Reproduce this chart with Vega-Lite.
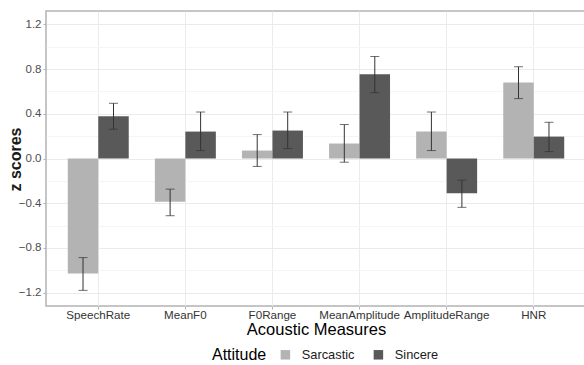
{
  "$schema": "https://vega.github.io/schema/vega-lite/v6.json",
  "width": 540,
  "height": 295,
  "autosize": {"type": "none"},
  "padding": {"left": 46, "top": 11, "right": -2, "bottom": 59},
  "background": "white",
  "config": {
    "view": {"stroke": "#b3b3b3", "strokeWidth": 1.5},
    "font": "Liberation Sans"
  },
  "data": {
    "values": [
      {"Measure": "SpeechRate", "Attitude": "Sarcastic", "z": -1.03, "lo": -1.18, "hi": -0.887},
      {"Measure": "SpeechRate", "Attitude": "Sincere", "z": 0.378, "lo": 0.262, "hi": 0.494},
      {"Measure": "MeanF0", "Attitude": "Sarcastic", "z": -0.387, "lo": -0.512, "hi": -0.274},
      {"Measure": "MeanF0", "Attitude": "Sincere", "z": 0.241, "lo": 0.071, "hi": 0.416},
      {"Measure": "F0Range", "Attitude": "Sarcastic", "z": 0.071, "lo": -0.071, "hi": 0.214},
      {"Measure": "F0Range", "Attitude": "Sincere", "z": 0.25, "lo": 0.089, "hi": 0.416},
      {"Measure": "MeanAmplitude", "Attitude": "Sarcastic", "z": 0.134, "lo": -0.033, "hi": 0.304},
      {"Measure": "MeanAmplitude", "Attitude": "Sincere", "z": 0.753, "lo": 0.589, "hi": 0.913},
      {"Measure": "AmplitudeRange", "Attitude": "Sarcastic", "z": 0.241, "lo": 0.071, "hi": 0.416},
      {"Measure": "AmplitudeRange", "Attitude": "Sincere", "z": -0.312, "lo": -0.437, "hi": -0.194},
      {"Measure": "HNR", "Attitude": "Sarcastic", "z": 0.681, "lo": 0.536, "hi": 0.821},
      {"Measure": "HNR", "Attitude": "Sincere", "z": 0.196, "lo": 0.062, "hi": 0.324}
    ]
  },
  "encoding": {
    "x": {
      "field": "Measure",
      "type": "nominal",
      "sort": ["SpeechRate", "MeanF0", "F0Range", "MeanAmplitude", "AmplitudeRange", "HNR"],
      "scale": {"paddingInner": 0.3, "paddingOuter": 0.25},
      "axis": {
        "title": "Acoustic Measures",
        "titleFontSize": 16.5,
        "titleFontWeight": "normal",
        "titleColor": "#000000",
        "titlePadding": 1,
        "labelAngle": 0,
        "labelFontSize": 11.6,
        "labelColor": "#333333",
        "labelPadding": 0,
        "bandPosition": 0.5,
        "grid": true,
        "gridColor": "#ebebeb",
        "gridWidth": 1,
        "tickColor": "#b3b3b3",
        "tickSize": 3,
        "domain": false,
        "zindex": 0
      }
    },
    "xOffset": {"field": "Attitude", "type": "nominal", "scale": {"paddingInner": 0, "paddingOuter": 0}},
    "y": {
      "type": "quantitative",
      "scale": {"domain": [-1.32, 1.32], "nice": false, "zero": false},
      "axis": {
        "title": "z scores",
        "titleFontSize": 16,
        "titleFontWeight": "bold",
        "titleColor": "#1a1a1a",
        "titleX": -31,
        "titleY": 148,
        "titleAngle": -90,
        "titleBaseline": "middle",
        "titleAlign": "center",
        "values": [-1.2, -1.0, -0.8, -0.6, -0.4, -0.2, 0, 0.2, 0.4, 0.6, 0.8, 1.0, 1.2],
        "format": ".1f",
        "labelExpr": "abs(round(datum.value*10)) % 4 == 0 ? datum.label : ''",
        "labelFontSize": 11.5,
        "labelColor": "#4d4d4d",
        "labelPadding": 2,
        "grid": true,
        "gridColor": {"condition": {"test": "abs(round(datum.value*10)) % 4 == 0", "value": "#ebebeb"}, "value": "#f5f5f5"},
        "tickColor": "#b3b3b3",
        "tickSize": 3,
        "tickOpacity": {"condition": {"test": "abs(round(datum.value*10)) % 4 == 0", "value": 1}, "value": 0},
        "domain": false,
        "zindex": 0
      }
    }
  },
  "layer": [
    {
      "mark": {"type": "bar"},
      "encoding": {
        "y": {"field": "z"},
        "color": {
          "field": "Attitude",
          "type": "nominal",
          "scale": {"domain": ["Sarcastic", "Sincere"], "range": ["#b3b3b3", "#595959"]},
          "legend": {
            "orient": "none",
            "legendX": 166,
            "legendY": 337,
            "direction": "horizontal",
            "title": "Attitude",
            "titleOrient": "left",
            "titleFontSize": 16,
            "titleFontWeight": "normal",
            "titleColor": "#000000",
            "titlePadding": 12,
            "titleBaseline": "middle",
            "labelFontSize": 12.8,
            "labelColor": "#1a1a1a",
            "labelOffset": 10,
            "columnPadding": 17,
            "symbolType": "square",
            "symbolSize": 90,
            "symbolStrokeWidth": 0
          }
        }
      }
    },
    {
      "mark": {"type": "rule", "color": "#333333", "strokeWidth": 1},
      "encoding": {
        "y": {"field": "lo"},
        "y2": {"field": "hi"}
      }
    },
    {
      "mark": {"type": "tick", "color": "#333333", "thickness": 1, "size": 9},
      "encoding": {"y": {"field": "lo"}}
    },
    {
      "mark": {"type": "tick", "color": "#333333", "thickness": 1, "size": 9},
      "encoding": {"y": {"field": "hi"}}
    }
  ]
}
